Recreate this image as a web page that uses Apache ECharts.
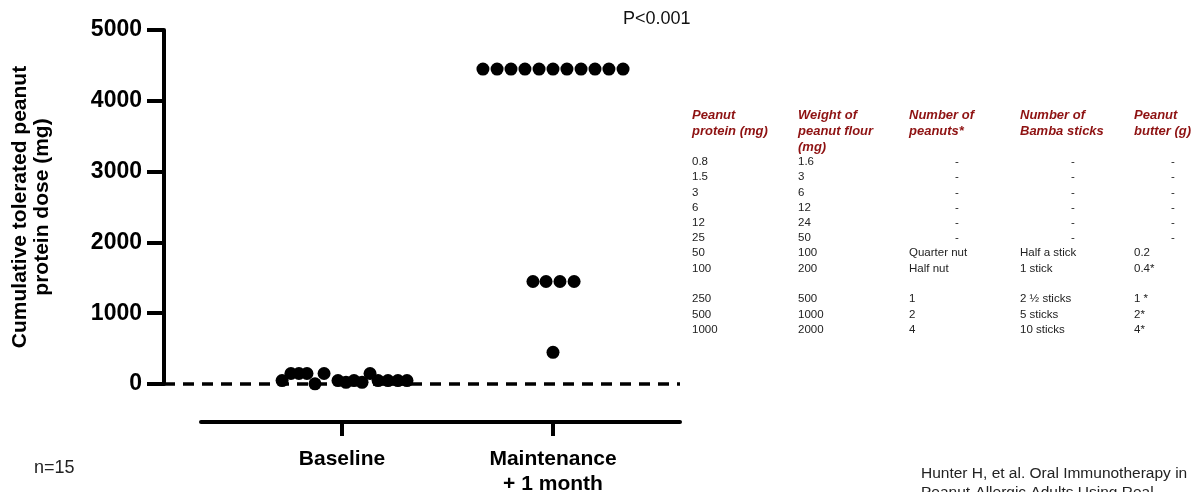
<!DOCTYPE html>
<html>
<head>
<meta charset="utf-8">
<script src="https://cdn.jsdelivr.net/npm/echarts@6/dist/echarts.min.js"></script>
<style>
  html, body { margin: 0; padding: 0; background: #fff; }
  #chart { width: 1201px; height: 492px; }
</style>
</head>
<body>
<div id="chart"></div>
<script>
// groups on the x axis (position 1 and 2)
const groupNames = ['Baseline', 'Maintenance\n+ 1 month'];

// individual patients: horizontal jitter around the group centre, dose in mg
const baselineJitter = [-0.284, -0.242, -0.204, -0.166, -0.128, -0.085, -0.019, 0.019, 0.057, 0.095, 0.133, 0.171, 0.218, 0.265, 0.308];
const baselineDose   = [48, 148, 148, 148, 2, 148, 48, 23, 48, 23, 148, 48, 48, 48, 48];

const maintJitter = [-0.332, -0.265, -0.199, -0.133, -0.066, 0, 0.066, 0.133, 0.199, 0.265, 0.332, -0.095, -0.033, 0.033, 0.100, 0];
const maintDose   = [4448, 4448, 4448, 4448, 4448, 4448, 4448, 4448, 4448, 4448, 4448, 1448, 1448, 1448, 1448, 448];

const yTicks = [0, 1000, 2000, 3000, 4000, 5000];

// dosing table
const tableHeaders = [
  ['Peanut', 'protein (mg)'],
  ['Weight of', 'peanut flour', '(mg)'],
  ['Number of', 'peanuts*'],
  ['Number of', 'Bamba sticks'],
  ['Peanut', 'butter (g)']
];
const proteinMg   = ['0.8', '1.5', '3', '6', '12', '25', '50', '100', '250', '500', '1000'];
const flourMg     = ['1.6', '3', '6', '12', '24', '50', '100', '200', '500', '1000', '2000'];
const peanutCount = ['-', '-', '-', '-', '-', '-', 'Quarter nut', 'Half nut', '1', '2', '4'];
const bambaSticks = ['-', '-', '-', '-', '-', '-', 'Half a stick', '1 stick', '2 \u00bd sticks', '5 sticks', '10 sticks'];
const butterG     = ['-', '-', '-', '-', '-', '-', '0.2', '0.4*', '1 *', '2*', '4*'];

// table layout
const colLeft = [692, 798, 909, 1020, 1134];
const dashX = [null, null, 957, 1073, 1173];
const headerY = [117, 133, 149];
const rowY = [162, 177, 193, 208, 223, 238, 253, 269, 299, 315, 330];
const FONT = '"Liberation Sans", Arial, sans-serif';
const RED = '#8e1212';

const chart = echarts.init(document.getElementById('chart'));

const graphics = [];
tableHeaders.forEach((lines, c) => {
  lines.forEach((t, i) => {
    graphics.push({
      type: 'text', left: colLeft[c], top: headerY[i] - 8,
      style: { text: t, font: 'italic bold 13px ' + FONT, fill: RED }
    });
  });
});
[proteinMg, flourMg, peanutCount, bambaSticks, butterG].forEach((col, c) => {
  col.forEach((t, r) => {
    const isDash = t === '-';
    graphics.push({
      type: 'text',
      x: isDash ? dashX[c] : colLeft[c],
      y: rowY[r],
      style: {
        text: t, font: '11.5px ' + FONT, fill: '#222',
        textAlign: isDash ? 'center' : 'left', textVerticalAlign: 'middle'
      }
    });
  });
});
graphics.push(
  { type: 'text', x: 623, y: 19, style: { text: 'P<0.001', font: '18px ' + FONT, fill: '#111', textVerticalAlign: 'middle' } },
  { type: 'text', x: 34, y: 468, style: { text: 'n=15', font: '18px ' + FONT, fill: '#222', textVerticalAlign: 'middle' } },
  { type: 'text', x: 921, y: 464, style: { text: 'Hunter H, et al. Oral Immunotherapy in\nPeanut-Allergic Adults Using Real-', font: '15.5px ' + FONT, fill: '#222', lineHeight: 19 } }
);

const points = [];
baselineJitter.forEach((j, i) => points.push([1 + j, baselineDose[i]]));
maintJitter.forEach((j, i) => points.push([2 + j, maintDose[i]]));

const option = {
  animation: false,
  backgroundColor: '#fff',
  grid: [
    { left: 164, right: 521, top: 30, bottom: 108, containLabel: false, outerBoundsMode: 'none' },
    { left: 201, right: 521, top: 30, bottom: 70, containLabel: false, outerBoundsMode: 'none' }
  ],
  xAxis: [
    { gridIndex: 0, type: 'value', min: 0.1564, max: 2.6019, show: false },
    {
      gridIndex: 1, type: 'value', min: 0.3318, max: 2.6019,
      axisLine: { show: true, lineStyle: { color: '#000', width: 4 } },
      axisTick: { show: true, customValues: [1, 2], length: 14, lineStyle: { color: '#000', width: 4 } },
      axisLabel: {
        customValues: [1, 2],
        formatter: v => groupNames[Math.round(v) - 1],
        color: '#000', fontFamily: FONT, fontWeight: 'bold', fontSize: 21, lineHeight: 25, margin: 25
      },
      splitLine: { show: false }
    }
  ],
  yAxis: [
    {
      gridIndex: 0, type: 'value', min: 0, max: 5000, interval: 1000,
      name: 'Cumulative tolerated peanut\nprotein dose (mg)',
      nameLocation: 'middle', nameGap: 111,
      nameTextStyle: { color: '#000', fontFamily: FONT, fontWeight: 'bold', fontSize: 21, lineHeight: 22 },
      axisLine: { show: true, lineStyle: { color: '#000', width: 4 } },
      axisTick: { show: true, length: 17, lineStyle: { color: '#000', width: 4 } },
      axisLabel: {
        color: '#000', fontFamily: FONT, fontWeight: 'bold', fontSize: 23, margin: 22,
        customValues: yTicks,
        formatter: v => String(v)
      },
      splitLine: { show: false }
    },
    { gridIndex: 1, type: 'value', min: 0, max: 1, show: false }
  ],
  graphic: graphics,
  series: [
    {
      type: 'scatter', xAxisIndex: 0, yAxisIndex: 0,
      symbolSize: 13,
      itemStyle: { color: '#000', opacity: 1 },
      data: points,
      z: 5,
      markLine: {
        silent: true, symbol: 'none',
        label: { show: false },
        lineStyle: { color: '#000', width: 3.5, type: [11, 8] },
        data: [{ yAxis: 0 }]
      }
    }
  ]
};

chart.setOption(option);
</script>
</body>
</html>
